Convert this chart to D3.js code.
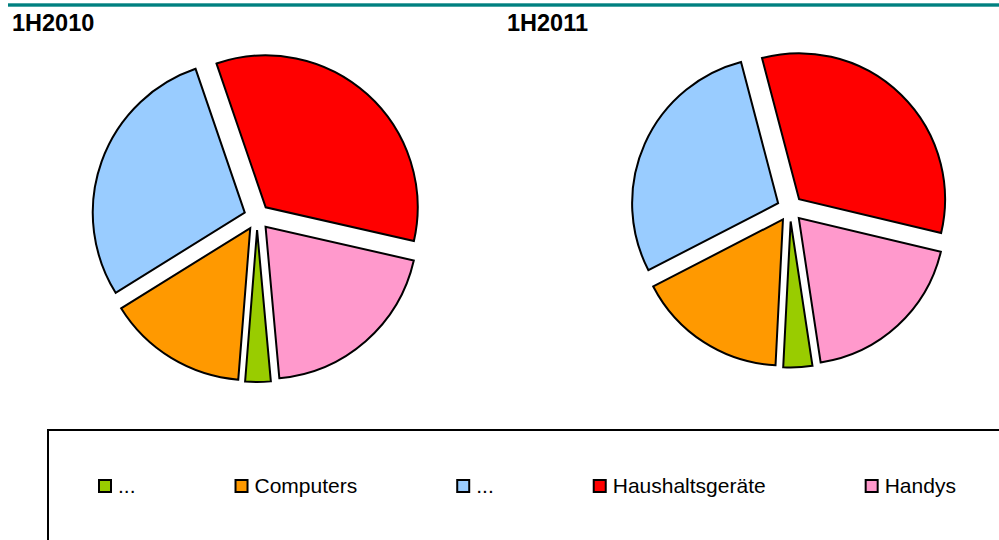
<!DOCTYPE html>
<html>
<head>
<meta charset="utf-8">
<script src="https://cdn.jsdelivr.net/npm/d3@7"></script>
<style>
  body { margin: 0; background: #fff; }
  svg { display: block; font-family: "Liberation Sans", Arial, sans-serif; }
</style>
</head>
<body>
<svg width="999" height="540"></svg>
<script>
// data (shares in %)
var categories = ["...", "Computers", "...", "Haushaltsgeräte", "Handys"];
var colors = ["#99cc00", "#ff9900", "#99ccff", "#ff0000", "#ff99cc"];
var periods = ["1H2010", "1H2011"];
var values2010 = [2.7, 14.9, 28.6, 33.8, 20.0];
var values2011 = [3.2, 16.6, 28.5, 32.8, 18.9];

var svg = d3.select("svg");

// teal rule on top
svg.append("rect")
    .attr("x", 8).attr("y", 3.3)
    .attr("width", 991).attr("height", 3.4)
    .attr("fill", "#008080");

var charts = [
  { title: periods[0], values: values2010, tx: 12, cx: 257, cy: 217, r: 152, start: 174.8 },
  { title: periods[1], values: values2011, tx: 507, cx: 790, cy: 208.5, r: 146, start: 171.4 }
];
var explode = 13;

charts.forEach(function(c) {
  svg.append("text")
      .attr("x", c.tx).attr("y", 31)
      .attr("font-size", 23.5)
      .attr("font-weight", "bold")
      .text(c.title);

  var pie = d3.pie()
      .sort(null)
      .startAngle(c.start * Math.PI / 180)
      .endAngle(c.start * Math.PI / 180 + 2 * Math.PI);

  var arc = d3.arc().innerRadius(0).outerRadius(c.r);

  var g = svg.append("g")
      .attr("transform", "translate(" + c.cx + "," + c.cy + ")");

  g.selectAll("path")
    .data(pie(c.values))
    .enter().append("path")
      .attr("d", arc)
      .attr("transform", function(d) {
        var a = (d.startAngle + d.endAngle) / 2;
        return "translate(" + (Math.sin(a) * explode) + "," + (-Math.cos(a) * explode) + ")";
      })
      .attr("fill", function(d, i) { return colors[i]; })
      .attr("stroke", "#000")
      .attr("stroke-width", 2)
      .attr("stroke-linejoin", "miter");
});

// legend box
svg.append("rect")
    .attr("x", 48).attr("y", 430)
    .attr("width", 1000).attr("height", 200)
    .attr("fill", "none")
    .attr("stroke", "#000")
    .attr("stroke-width", 2);

var lx = 99;
categories.forEach(function(name, i) {
  var item = svg.append("g").attr("transform", "translate(" + lx + ",480)");
  item.append("rect")
      .attr("width", 12).attr("height", 12)
      .attr("fill", colors[i])
      .attr("stroke", "#000")
      .attr("stroke-width", 2);
  var t = item.append("text")
      .attr("x", 19).attr("y", 13)
      .attr("font-size", 21)
      .text(name);
  lx += 19 + t.node().getComputedTextLength() + 100;
});
</script>
</body>
</html>
